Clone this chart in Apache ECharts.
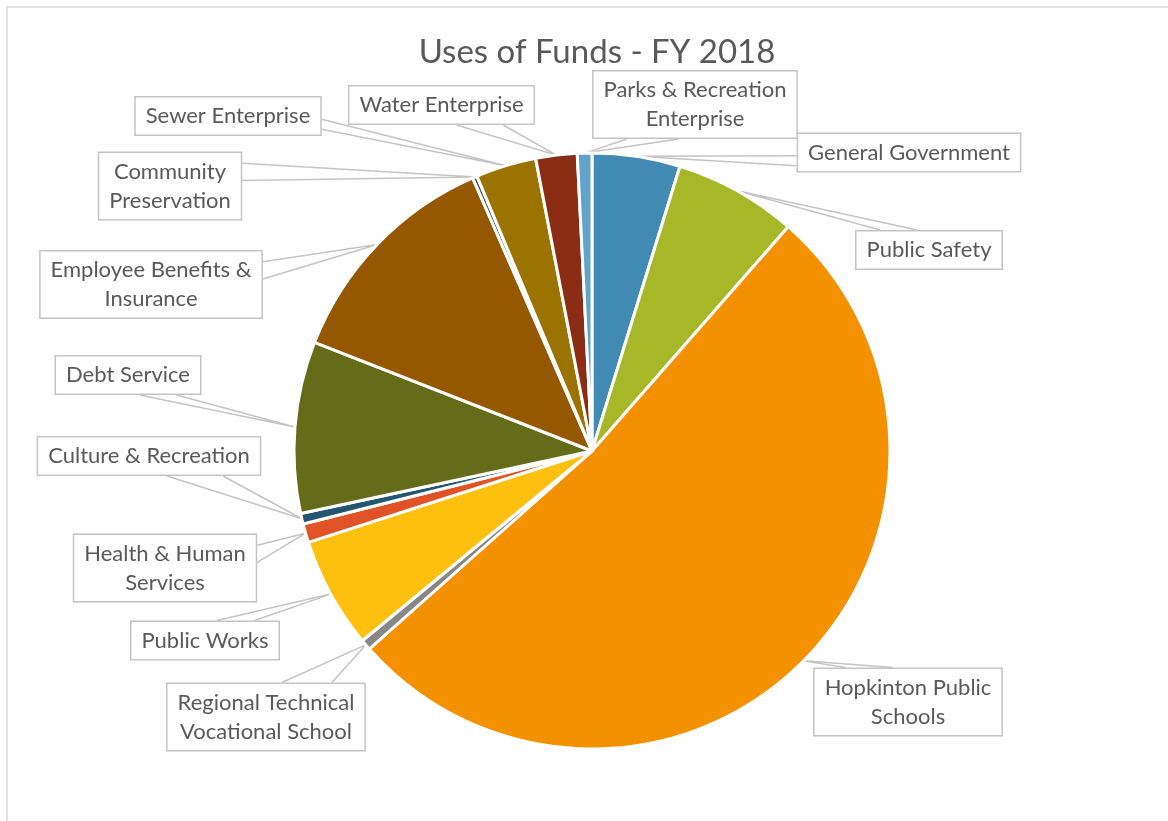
<!DOCTYPE html>
<html>
<head>
<meta charset="utf-8">
<title>Uses of Funds - FY 2018</title>
<script src="https://cdn.jsdelivr.net/npm/echarts@6/dist/echarts.min.js"></script>
<style>
  html, body { margin: 0; padding: 0; background: #ffffff; }
  #chart { width: 1168px; height: 821px; }
</style>
</head>
<body>
<div id="chart"></div>
<script>
// Budget categories, clockwise from 12 o'clock
const categories = [
  'General Government',
  'Public Safety',
  'Hopkinton Public Schools',
  'Regional Technical Vocational School',
  'Public Works',
  'Health & Human Services',
  'Culture & Recreation',
  'Debt Service',
  'Employee Benefits & Insurance',
  'Community Preservation',
  'Sewer Enterprise',
  'Water Enterprise',
  'Parks & Recreation Enterprise'
];

// Share of total FY 2018 uses of funds, in percent
const shares = [4.77, 6.67, 52.0, 0.58, 6.03, 1.02, 0.57, 9.31, 12.5, 0.25, 3.28, 2.24, 0.79];

// Text shown in each callout box (with line breaks)
const calloutText = [
  'General Government',
  'Public Safety',
  'Hopkinton Public\nSchools',
  'Regional Technical\nVocational School',
  'Public Works',
  'Health & Human\nServices',
  'Culture & Recreation',
  'Debt Service',
  'Employee Benefits &\nInsurance',
  'Community\nPreservation',
  'Sewer Enterprise',
  'Water Enterprise',
  'Parks & Recreation\nEnterprise'
];

const sliceColors = [
  '#418AB3', '#A6B727', '#F49100', '#878787', '#FEC00F', '#DF5327', '#245571',
  '#646C19', '#955800', '#4F4F4F', '#9B7300', '#8B2D15', '#62A3CB'
];

// Centre of each callout box, in px
const calloutCentres = [
  [909, 152.5], [929, 250], [908, 702], [266, 717], [205, 640.5], [165, 568],
  [149, 456], [128, 375], [151, 284.5], [170, 186], [228, 116], [441.5, 105], [695, 104.5]
];

const chart = echarts.init(document.getElementById('chart'));

// Point on the outer rim at the middle of a slice, taken from the pie's own layout
function sliceTip(i, p) {
  try {
    const lay = chart.getModel().getSeriesByIndex(0).getData().getItemLayout(i);
    const mid = (lay.startAngle + lay.endAngle) / 2;
    const pt = [lay.cx + lay.r * Math.cos(mid), lay.cy + lay.r * Math.sin(mid)];
    if (isFinite(pt[0]) && isFinite(pt[1])) return pt;
  } catch (e) { /* fall through */ }
  return p.labelLinePoints ? p.labelLinePoints[0].slice() : null;
}

// Wedge-shaped callout pointer: two lines from the box side facing the tip
function calloutPointer(box, tip) {
  const cx = box.x + box.width / 2, cy = box.y + box.height / 2;
  const vx = tip[0] - cx, vy = tip[1] - cy;
  const hw = box.width / 2, hh = box.height / 2;
  let a, b;
  if (Math.abs(vx) / hw > Math.abs(vy) / hh) {
    const ex = vx > 0 ? box.x + box.width : box.x;
    const f = vy < 0 ? [0.17, 0.42] : [0.58, 0.83];
    a = [ex, box.y + box.height * f[0]];
    b = [ex, box.y + box.height * f[1]];
  } else {
    const ey = vy > 0 ? box.y + box.height : box.y;
    const f = vx < 0 ? [0.17, 0.42] : [0.58, 0.83];
    a = [box.x + box.width * f[0], ey];
    b = [box.x + box.width * f[1], ey];
  }
  return [a, tip, b];
}

const textColor = '#595959';
const outline = '#C4C4C4';

chart.setOption({
  animation: false,
  backgroundColor: '#ffffff',
  title: {
    text: 'Uses of Funds - FY 2018',
    left: 592,
    top: 31,
    textAlign: 'center',
    textStyle: {
      fontFamily: 'Lato',
      fontWeight: 'normal',
      fontSize: 33,
      color: textColor
    }
  },
  graphic: [{
    type: 'rect',
    z: -10,
    silent: true,
    shape: { x: 7, y: 7, width: 1200, height: 860 },
    style: { fill: 'none', stroke: '#D9D9D9', lineWidth: 1.5 }
  }],
  series: [{
    type: 'pie',
    center: [592, 451],
    radius: 298,
    startAngle: 90,
    clockwise: true,
    avoidLabelOverlap: false,
    data: categories.map((name, i) => ({
      name: name,
      value: shares[i],
      itemStyle: { color: sliceColors[i] }
    })),
    itemStyle: { borderColor: '#ffffff', borderWidth: 3 },
    label: {
      show: true,
      position: 'outside',
      formatter: p => calloutText[p.dataIndex],
      fontFamily: 'Lato',
      fontSize: 22,
      lineHeight: 29,
      color: textColor,
      align: 'center',
      backgroundColor: '#ffffff',
      borderColor: outline,
      borderWidth: 1.5,
      borderRadius: 0,
      padding: [4, 10]
    },
    labelLine: {
      show: true,
      length: 10,
      length2: 10,
      smooth: false,
      lineStyle: { color: outline, width: 1.5 }
    },
    labelLayout: function (p) {
      const i = p.dataIndex;
      const c = calloutCentres[i];
      const w = p.labelRect.width, h = p.labelRect.height;
      const box = { x: c[0] - w / 2, y: c[1] - h / 2, width: w, height: h };
      const tip = sliceTip(i, p);
      const out = { x: c[0], y: c[1], align: 'center', verticalAlign: 'middle' };
      if (tip) out.labelLinePoints = calloutPointer(box, tip);
      return out;
    },
    emphasis: { disabled: true }
  }]
});
</script>
</body>
</html>
